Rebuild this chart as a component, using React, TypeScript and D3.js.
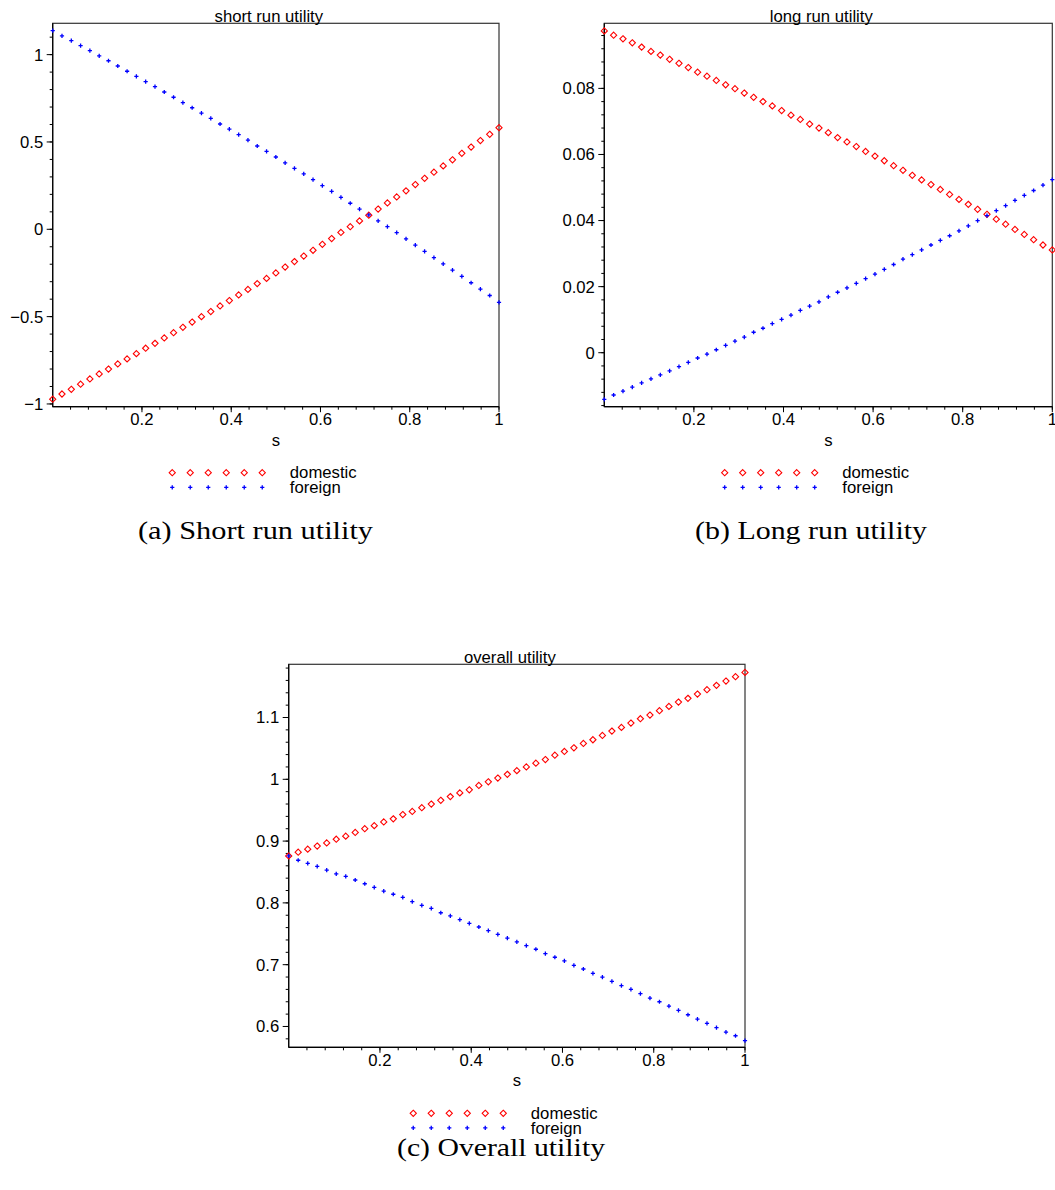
import React from 'react';
import * as d3 from 'd3';

// sample grid of s (49 points)
const S = [0, 0.0208, 0.0417, 0.0625, 0.0833, 0.1042, 0.125, 0.1458, 0.1667, 0.1875, 0.2083, 0.2292, 0.25, 0.2708, 0.2917, 0.3125, 0.3333, 0.3542, 0.375, 0.3958, 0.4167, 0.4375, 0.4583, 0.4792, 0.5, 0.5208, 0.5417, 0.5625, 0.5833, 0.6042, 0.625, 0.6458, 0.6667, 0.6875, 0.7083, 0.7292, 0.75, 0.7708, 0.7917, 0.8125, 0.8333, 0.8542, 0.875, 0.8958, 0.9167, 0.9375, 0.9583, 0.9792, 1];

const shortDomestic = [-0.973, -0.943, -0.916, -0.887, -0.857, -0.828, -0.8, -0.771, -0.742, -0.712, -0.681, -0.653, -0.622, -0.592, -0.561, -0.531, -0.5, -0.471, -0.439, -0.408, -0.376, -0.344, -0.311, -0.281, -0.25, -0.216, -0.185, -0.153, -0.12, -0.086, -0.053, -0.018, 0.015, 0.048, 0.081, 0.116, 0.151, 0.185, 0.22, 0.256, 0.292, 0.327, 0.363, 0.398, 0.435, 0.471, 0.508, 0.544, 0.582];
const shortForeign = [1.137, 1.107, 1.08, 1.052, 1.023, 0.993, 0.965, 0.935, 0.905, 0.876, 0.845, 0.817, 0.786, 0.756, 0.725, 0.696, 0.665, 0.635, 0.603, 0.573, 0.542, 0.51, 0.477, 0.446, 0.414, 0.38, 0.349, 0.317, 0.284, 0.25, 0.217, 0.183, 0.149, 0.115, 0.082, 0.048, 0.015, -0.019, -0.055, -0.091, -0.126, -0.162, -0.198, -0.234, -0.27, -0.306, -0.342, -0.379, -0.418];

const longDomestic = [0.0974, 0.0961, 0.095, 0.0938, 0.0925, 0.0912, 0.0901, 0.0888, 0.0876, 0.0863, 0.0849, 0.0837, 0.0824, 0.0811, 0.0799, 0.0786, 0.0773, 0.076, 0.0747, 0.0733, 0.0719, 0.0706, 0.0692, 0.068, 0.0666, 0.0651, 0.0638, 0.0624, 0.0609, 0.0595, 0.0581, 0.0566, 0.0552, 0.0537, 0.0523, 0.0509, 0.0494, 0.0479, 0.0464, 0.0449, 0.0434, 0.0419, 0.0404, 0.0389, 0.0373, 0.0358, 0.0342, 0.0326, 0.0311];
const longForeign = [-0.0141, -0.0128, -0.0116, -0.0104, -0.0091, -0.0079, -0.0067, -0.0055, -0.0042, -0.0029, -0.0016, -0.0004, 0.0009, 0.0022, 0.0035, 0.0047, 0.0062, 0.0074, 0.0088, 0.0101, 0.0114, 0.0128, 0.0141, 0.0154, 0.0169, 0.0183, 0.0196, 0.021, 0.0224, 0.0238, 0.0252, 0.0267, 0.0283, 0.0297, 0.0311, 0.0326, 0.034, 0.0354, 0.0369, 0.0384, 0.04, 0.0415, 0.043, 0.0445, 0.0461, 0.0476, 0.0491, 0.0507, 0.0524];

const overallDomestic = [0.876, 0.882, 0.887, 0.892, 0.897, 0.903, 0.908, 0.914, 0.92, 0.925, 0.931, 0.936, 0.943, 0.948, 0.954, 0.96, 0.966, 0.972, 0.978, 0.983, 0.99, 0.996, 1.002, 1.008, 1.014, 1.02, 1.026, 1.032, 1.039, 1.045, 1.051, 1.058, 1.064, 1.071, 1.078, 1.084, 1.091, 1.098, 1.104, 1.111, 1.118, 1.125, 1.131, 1.138, 1.145, 1.152, 1.159, 1.166, 1.173];
const overallForeign = [0.876, 0.869, 0.864, 0.859, 0.853, 0.847, 0.843, 0.837, 0.831, 0.825, 0.819, 0.814, 0.809, 0.802, 0.796, 0.791, 0.784, 0.779, 0.773, 0.767, 0.761, 0.755, 0.749, 0.743, 0.737, 0.731, 0.725, 0.718, 0.712, 0.706, 0.699, 0.693, 0.686, 0.68, 0.673, 0.666, 0.66, 0.653, 0.646, 0.64, 0.633, 0.626, 0.619, 0.612, 0.605, 0.598, 0.591, 0.585, 0.577];

const xTickValues = [0.2, 0.4, 0.6, 0.8, 1];
const xTickLabels = ['0.2', '0.4', '0.6', '0.8', '1'];

const yTicksShort = [-1, -0.5, 0, 0.5, 1];
const yLabelsShort = ['\u22121', '\u22120.5', '0', '0.5', '1'];
const yTicksLong = [0, 0.02, 0.04, 0.06, 0.08];
const yLabelsLong = ['0', '0.02', '0.04', '0.06', '0.08'];
const yTicksOverall = [0.6, 0.7, 0.8, 0.9, 1, 1.1];
const yLabelsOverall = ['0.6', '0.7', '0.8', '0.9', '1', '1.1'];

const seriesNames = ['domestic', 'foreign'];
const titles = ['short run utility', 'long run utility', 'overall utility'];
const captions = ['(a) Short run utility', '(b) Long run utility', '(c) Overall utility'];

const SANS = '"Liberation Sans", Arial, Helvetica, sans-serif';
const SERIF = '"Liberation Serif", "Times New Roman", serif';
const FS = 16.7;
const RED = '#ff0000';
const BLUE = '#0000ff';

type PanelSpec = {
  title: string;
  caption: string;
  domestic: number[];
  foreign: number[];
  yTicks: number[];
  yLabels: string[];
  yMinorStep: number;
  yDomain: [number, number];
  box: { l: number; r: number; t: number; b: number };
  captionX: number;
  captionY: number;
  captionW: number;
};

const panels: PanelSpec[] = [
  {
    title: titles[0], caption: captions[0], domestic: shortDomestic, foreign: shortForeign,
    yTicks: yTicksShort, yLabels: yLabelsShort, yMinorStep: 0.1, yDomain: [-1.0157, 1.1794],
    box: { l: 52.7, r: 499, t: 23.3, b: 406.7 }, captionX: 255.5, captionY: 539.3, captionW: 235,
  },
  {
    title: titles[1], caption: captions[1], domestic: longDomestic, foreign: longForeign,
    yTicks: yTicksLong, yLabels: yLabelsLong, yMinorStep: 0.004, yDomain: [-0.01634, 0.0997],
    box: { l: 604.3, r: 1052.3, t: 23.3, b: 406.7 }, captionX: 811, captionY: 539.3, captionW: 232,
  },
  {
    title: titles[2], caption: captions[2], domestic: overallDomestic, foreign: overallForeign,
    yTicks: yTicksOverall, yLabels: yLabelsOverall, yMinorStep: 0.02, yDomain: [0.5663, 1.1861],
    box: { l: 288.7, r: 745, t: 664.3, b: 1047.3 }, captionX: 501, captionY: 1156, captionW: 208,
  },
];

const diamondPath = 'M0,-3.1L3.1,0L0,3.1L-3.1,0Z';
const crossPath = 'M-2.1,0H2.1M0,-2.1V2.1';

function Diamond({ x, y }: { x: number; y: number }) {
  return <path d={diamondPath} transform={`translate(${x},${y})`} fill="none" stroke={RED} strokeWidth={1.1} />;
}
function Cross({ x, y }: { x: number; y: number }) {
  return <path d={crossPath} transform={`translate(${x},${y})`} fill="none" stroke={BLUE} strokeWidth={1.3} />;
}

function Panel({ p }: { p: PanelSpec }) {
  const { l, r, t, b } = p.box;
  const x = d3.scaleLinear().domain([0, 1]).range([l, r]);
  const y = d3.scaleLinear().domain(p.yDomain).range([b, t]);
  const cx = (l + r) / 2;

  const step = p.yMinorStep;
  const kMin = Math.ceil(p.yDomain[0] / step - 1e-6);
  const kMax = Math.floor(p.yDomain[1] / step + 1e-6);
  const yMinor = d3.range(kMin, kMax + 1).map((k) => k * step);
  const xMinor = d3.range(1, 26).map((k) => k * 0.04);

  return (
    <g>
      <rect x={l} y={t} width={r - l} height={b - t} fill="none" stroke="#333" strokeWidth={1.2} />
      <line x1={l} x2={l} y1={t} y2={b} stroke="#000" strokeWidth={1.2} />
      <line x1={l} x2={r} y1={b} y2={b} stroke="#000" strokeWidth={1.2} />

      {yMinor.map((v, i) => (
        <line key={'ym' + i} x1={l - 3} x2={l} y1={y(v)} y2={y(v)} stroke="#000" strokeWidth={1} />
      ))}
      {p.yTicks.map((v, i) => (
        <g key={'yt' + i}>
          <line x1={l - 6} x2={l} y1={y(v)} y2={y(v)} stroke="#000" strokeWidth={1} />
          <text x={l - 9.4} y={y(v) + 5.9} textAnchor="end" fontFamily={SANS} fontSize={FS} fill="#000">
            {p.yLabels[i]}
          </text>
        </g>
      ))}

      {xMinor.map((v, i) => (
        <line key={'xm' + i} x1={x(v)} x2={x(v)} y1={b} y2={b + 3} stroke="#000" strokeWidth={1} />
      ))}
      {xTickValues.map((v, i) => (
        <g key={'xt' + i}>
          <line x1={x(v)} x2={x(v)} y1={b} y2={b + 5.5} stroke="#000" strokeWidth={1} />
          <text x={x(v)} y={b + 18.3} textAnchor="middle" fontFamily={SANS} fontSize={FS} fill="#000">
            {xTickLabels[i]}
          </text>
        </g>
      ))}

      <text x={cx} y={b + 39} textAnchor="middle" fontFamily={SANS} fontSize={FS} fill="#000">s</text>

      <text x={cx - 7} y={t - 1.8} textAnchor="middle" fontFamily={SANS} fontSize={FS} fill="#000">{p.title}</text>

      {p.domestic.map((v, i) => (
        <Diamond key={'d' + i} x={x(S[i])} y={y(v)} />
      ))}
      {p.foreign.map((v, i) => (
        <Cross key={'f' + i} x={x(S[i])} y={y(v)} />
      ))}

      {d3.range(6).map((k) => (
        <Diamond key={'ld' + k} x={cx - 103.6 + k * 18} y={b + 66} />
      ))}
      {d3.range(6).map((k) => (
        <Cross key={'lf' + k} x={cx - 103.6 + k * 18} y={b + 80.6} />
      ))}
      <text x={cx + 14} y={b + 66 + 5.6} fontFamily={SANS} fontSize={FS} fill="#000">{seriesNames[0]}</text>
      <text x={cx + 14} y={b + 80.6 + 5.6} fontFamily={SANS} fontSize={FS} fill="#000">{seriesNames[1]}</text>

      <text
        x={p.captionX}
        y={p.captionY}
        textAnchor="middle"
        fontFamily={SERIF}
        fontSize={26}
        textLength={p.captionW}
        lengthAdjust="spacingAndGlyphs"
        fill="#000"
      >
        {p.caption}
      </text>
    </g>
  );
}

export default function App() {
  return (
    <svg
      width={1055}
      height={1190}
      viewBox="0 0 1055 1190"
      style={{ position: 'absolute', left: 0, top: 0, display: 'block', background: '#fff' }}
    >
      <rect x={0} y={0} width={1055} height={1190} fill="#fff" />
      {panels.map((p, i) => (
        <Panel key={i} p={p} />
      ))}
    </svg>
  );
}
